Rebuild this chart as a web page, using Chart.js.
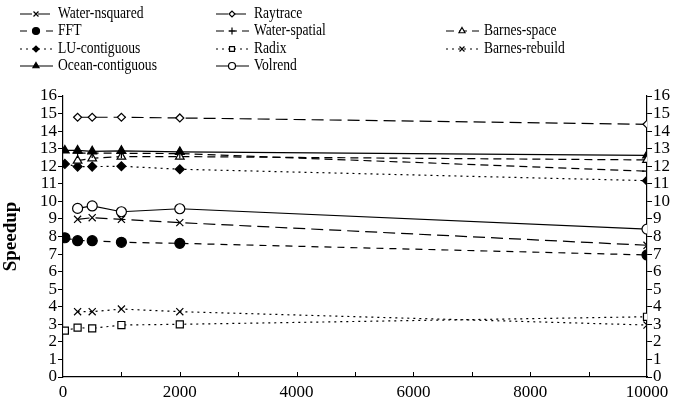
<!DOCTYPE html>
<html>
<head>
<meta charset="utf-8">
<script src="https://cdn.jsdelivr.net/npm/chart.js@4"></script>
<style>
  html, body { margin: 0; padding: 0; background: #fff; }
  #wrap { width: 675px; height: 408px; }
</style>
</head>
<body>
<div id="wrap"><canvas id="speedup"></canvas></div>
<script>
const xValues = [32, 250, 500, 1000, 2000, 10000];
const waterNsquared = [null, 8.98, 9.07, 8.98, 8.79, 7.5];
const raytrace = [null, 14.79, 14.79, 14.79, 14.75, 14.39];
const fft = [7.93, 7.76, 7.76, 7.67, 7.61, 6.95];
const waterSpatial = [null, 12.75, 12.75, 12.74, 12.72, 11.72];
const barnesSpace = [null, 12.32, 12.45, 12.55, 12.55, 12.36];
const luContiguous = [12.13, 11.98, 11.98, 12.0, 11.83, 11.18];
const radix = [2.64, 2.81, 2.77, 2.96, 3.0, 3.43];
const barnesRebuild = [null, 3.72, 3.72, 3.87, 3.72, 2.96];
const oceanContiguous = [12.9, 12.9, 12.85, 12.88, 12.82, 12.62];
const volrend = [null, 9.6, 9.74, 9.41, 9.58, 8.42];

const xTickLabels = [0, 2000, 4000, 6000, 8000, 10000];
const yMin = 0, yMax = 16;

const FONT = '"Liberation Serif", "Times New Roman", serif';

function pts(vals) {
  return xValues.map((x, i) => ({ x: x, y: vals[i] }));
}

function series(label, vals, style, dash, radius, filled) {
  return {
    label: label,
    data: pts(vals),
    borderColor: '#000',
    borderWidth: 1.2,
    borderDash: dash,
    backgroundColor: filled ? '#000' : '#fff',
    pointStyle: style,
    pointRadius: radius,
    pointBorderWidth: 1.2,
    pointBorderColor: '#000',
    pointBackgroundColor: filled ? '#000' : '#fff',
    fill: false,
    tension: 0
  };
}

const datasets = [
  series('Water-nsquared', waterNsquared, 'crossRot', [12, 6], 5, false),
  series('Raytrace', raytrace, 'rectRot', [12, 6], 4, false),
  series('FFT', fft, 'circle', [7, 6], 5, true),
  series('Water-spatial', waterSpatial, 'cross', [8, 5], 5, false),
  series('Barnes-space', barnesSpace, 'triangle', [8, 5], 5, false),
  series('LU-contiguous', luContiguous, 'rectRot', [2, 4], 4.5, true),
  series('Radix', radix, 'rect', [2, 4], 5, false),
  series('Barnes-rebuild', barnesRebuild, 'crossRot', [2, 4], 5, false),
  series('Ocean-contiguous', oceanContiguous, 'triangle', [], 5, true),
  series('Volrend', volrend, 'circle', [], 5, false)
];

// legend slots: [column, row]
const legendCols = [20, 216, 446];
const legendRows = [14, 31, 49, 66];
const legendSlots = [
  [0, 0], [1, 0], [0, 1], [1, 1], [2, 1],
  [0, 2], [1, 2], [2, 2], [0, 3], [1, 3]
];

const legendPlugin = {
  id: 'gridLegend',
  afterDraw(chart) {
    const ctx = chart.ctx;
    ctx.save();
    chart.data.datasets.forEach((ds, i) => {
      const x = legendCols[legendSlots[i][0]];
      const y = legendRows[legendSlots[i][1]];
      ctx.strokeStyle = '#000';
      ctx.lineWidth = 1.2;
      ctx.setLineDash(ds.borderDash);
      ctx.beginPath();
      ctx.moveTo(x, y);
      ctx.lineTo(x + 33, y);
      ctx.stroke();
      ctx.setLineDash([]);
      ctx.fillStyle = ds.pointBackgroundColor;
      Chart.helpers.drawPoint(ctx, {
        pointStyle: ds.pointStyle,
        radius: Math.max(ds.pointRadius - 1.5, 3),
        rotation: 0,
        borderWidth: 1.1
      }, x + 16, y);
      // the source text is horizontally condensed
      ctx.save();
      ctx.translate(x + 38, y);
      ctx.scale(0.8, 1);
      ctx.font = '17px ' + FONT;
      ctx.textBaseline = 'middle';
      ctx.fillStyle = '#000';
      ctx.fillText(ds.label, 0, 0);
      ctx.restore();
    });
    ctx.restore();
  }
};

// inward x ticks every 1000
const xTickPlugin = {
  id: 'xInTicks',
  afterDatasetsDraw(chart) {
    const ctx = chart.ctx;
    const sx = chart.scales.x;
    const bottom = chart.chartArea.bottom;
    ctx.save();
    ctx.strokeStyle = '#000';
    ctx.lineWidth = 1;
    for (let v = 1000; v < 10000; v += 1000) {
      const px = Math.round(sx.getPixelForValue(v)) + 0.5;
      ctx.beginPath();
      ctx.moveTo(px, bottom);
      ctx.lineTo(px, bottom - 5);
      ctx.stroke();
    }
    ctx.restore();
  }
};

const yAxisBase = {
  type: 'linear',
  min: yMin,
  max: yMax,
  border: { display: true, color: '#000', width: 1.2 },
  grid: { drawOnChartArea: false, drawTicks: true, tickLength: 5, color: '#000' },
  ticks: { stepSize: 1, autoSkip: false, color: '#000', padding: 1, font: { family: FONT, size: 17 } }
};

new Chart(document.getElementById('speedup'), {
  type: 'line',
  data: { datasets: datasets },
  options: {
    responsive: true,
    maintainAspectRatio: false,
    animation: false,
    layout: { padding: { top: 96, left: 0, right: 0, bottom: 0 } },
    plugins: { legend: { display: false }, tooltip: { enabled: false } },
    scales: {
      x: {
        type: 'linear',
        min: 0,
        max: 10000,
        afterBuildTicks: s => { s.ticks = xTickLabels.map(v => ({ value: v })); },
        afterFit: s => { s.height = 31; },
        border: { display: true, color: '#000', width: 1.2 },
        grid: { display: false, drawTicks: false, tickLength: 0 },
        ticks: { color: '#000', padding: 5, maxRotation: 0, autoSkip: false,
          callback: v => String(v), font: { family: FONT, size: 17 } }
      },
      y: Object.assign({}, yAxisBase, {
        position: 'left',
        afterFit: s => { s.width = 63; },
        title: { display: true, text: 'Speedup', color: '#000', padding: 0, font: { family: FONT, size: 19, weight: 'bold' } }
      }),
      y2: Object.assign({}, yAxisBase, {
        position: 'right',
        afterFit: s => { s.width = 28; }
      })
    }
  },
  plugins: [legendPlugin, xTickPlugin]
});
</script>
</body>
</html>
